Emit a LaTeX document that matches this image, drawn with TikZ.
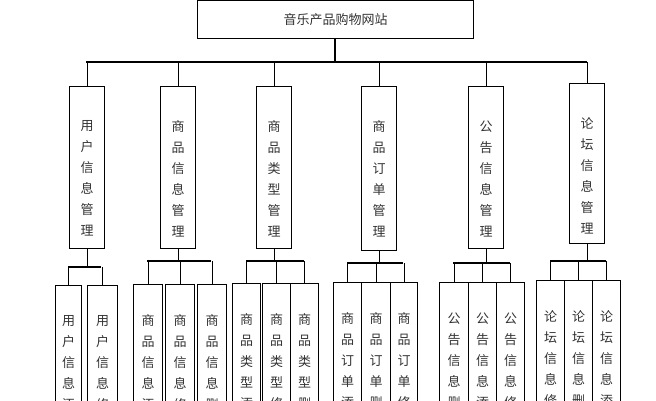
\documentclass[tikz,border=0pt]{standalone}
\usepackage{fontspec}
\newfontfamily\cjk{Noto Sans CJK SC}
\begin{document}
\begin{tikzpicture}[x=1pt,y=-1pt,line width=1.1pt,
  box/.style={draw,line width=1.1pt,inner sep=0pt,anchor=north west},
  vt/.style={font=\cjk\fontsize{13}{21}\selectfont,align=center,anchor=north,text=black!80,inner sep=0pt},
  vb/.style={font=\cjk\fontsize{13}{21}\selectfont,align=center,anchor=north,text=black!80,inner sep=0pt}]
\useasboundingbox (0,0) rectangle (656,400);
\clip (0,0) rectangle (656,400);
\fill[white] (0,0) rectangle (656,400);
\node[box,minimum width=276pt,minimum height=38pt,font=\cjk\fontsize{13}{15}\selectfont,text=black!80] (top) at (197,0) {音乐产品购物网站};
\draw (335,38) -- (335,62);
\draw (86,62) -- (587,62);
% second level
\foreach \n/\x/\y/\h/\t in {a/69/86/162/{用\\户\\信\\息\\管\\理},b/160/86/162/{商\\品\\信\\息\\管\\理},c/256/86/162/{商\\品\\类\\型\\管\\理},d/361/86/164/{商\\品\\订\\单\\管\\理},e/468/86/162/{公\\告\\信\\息\\管\\理},f/569/83/160/{论\\坛\\信\\息\\管\\理}}{
  \node[box,minimum width=35pt,minimum height=\h pt] (\n) at (\x,\y) {};
  \node[vt] at ([yshift=-34pt]\n.north) {\t};
  \draw (\n.north) -- (\n.north|-0,62);
}
% third level
\newcommand\grp[8]{%
  \draw (#6.south) -- (#6.south|-0,#2);
  \foreach \xl/\w/\s [count=\i] in {#4}{
    \node[box,minimum width=\w pt,minimum height=200pt] (#5\i) at (\xl,#3) {};
    \node[vb] at ([yshift=-30pt]#5\i.north) {#7\s};
    \draw (#5\i.north) -- (#5\i.north|-0,#2);
  }
  \draw (#8,#2) -- (#1,#2);
}
\grp{101}{267}{285}{55/26/{添\\加},87/30/{修\\改}}{g}{a}{用\\户\\信\\息\\}{68}
\grp{211}{261}{284}{133/29/{添\\加},165/29/{修\\改},197/29/{删\\除}}{h}{b}{商\\品\\信\\息\\}{147}
\grp{304}{261}{283}{232/28/{添\\加},262/28/{修\\改},290/28/{删\\除}}{k}{c}{商\\品\\类\\型\\}{246}
\grp{403}{263}{282}{333/28/{添\\加},361/29/{删\\除},390/27/{修\\改}}{m}{d}{商\\品\\订\\单\\}{347}
\grp{510}{263}{282}{439/29/{删\\除},468/28/{添\\加},496/28/{修\\改}}{p}{e}{公\\告\\信\\息\\}{453}
\grp{606}{261}{280}{536/28/{修\\改},564/28/{删\\除},592/28/{添\\加}}{q}{f}{论\\坛\\信\\息\\}{550}
\end{tikzpicture}
\end{document}
